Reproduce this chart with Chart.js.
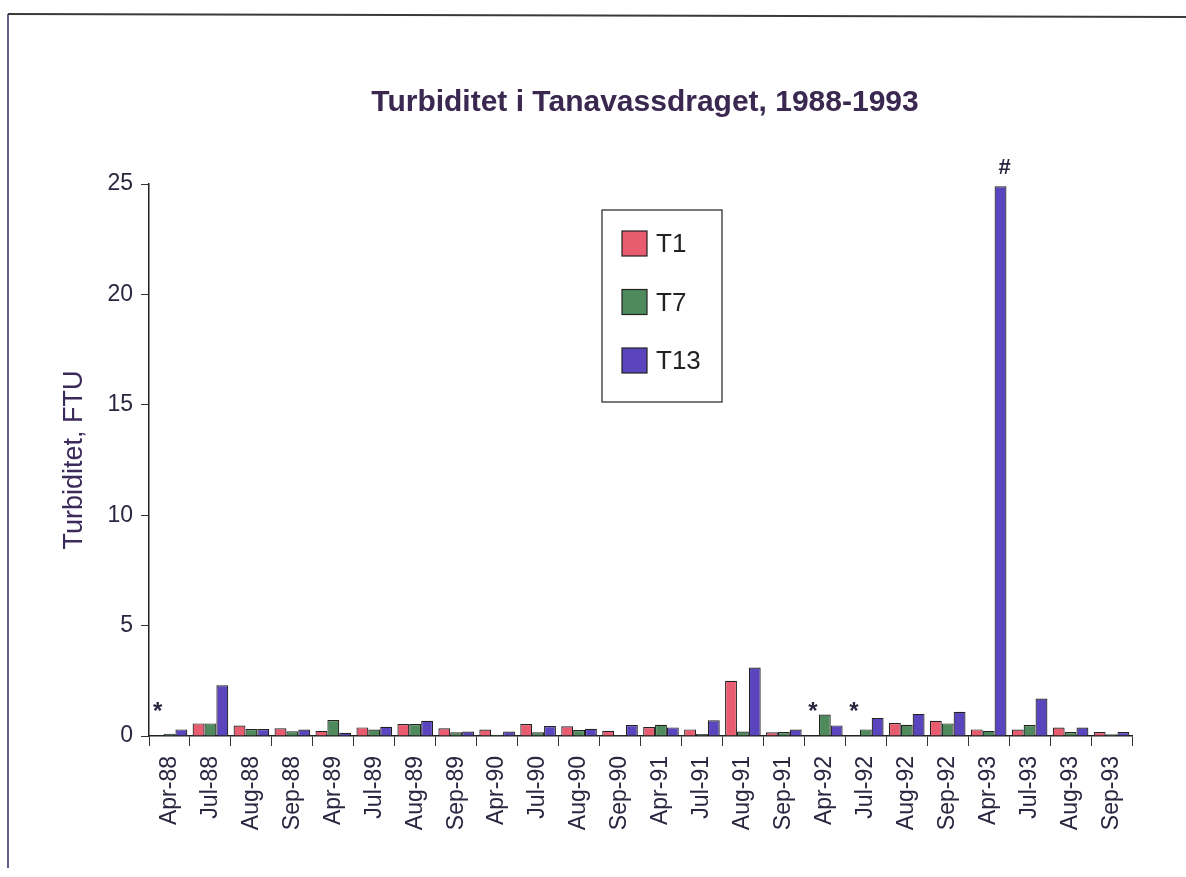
<!DOCTYPE html>
<html>
<head>
<meta charset="utf-8">
<title>Turbiditet i Tanavassdraget</title>
<script src="https://cdn.jsdelivr.net/npm/chart.js@4.4.1/dist/chart.umd.min.js"></script>
<style>
  html, body { margin: 0; padding: 0; background: #fff; }
  #wrap { position: relative; width: 1186px; height: 877px; }
</style>
</head>
<body>
<div id="wrap"><canvas id="myChart"></canvas></div>
<script>
const categories = ['Apr-88', 'Jul-88', 'Aug-88', 'Sep-88', 'Apr-89', 'Jul-89', 'Aug-89', 'Sep-89',
  'Apr-90', 'Jul-90', 'Aug-90', 'Sep-90', 'Apr-91', 'Jul-91', 'Aug-91', 'Sep-91',
  'Apr-92', 'Jul-92', 'Aug-92', 'Sep-92', 'Apr-93', 'Jul-93', 'Aug-93', 'Sep-93'];

const t1 = [null, 0.57, 0.47, 0.35, 0.23, 0.39, 0.54, 0.35, 0.29, 0.54, 0.44, 0.24,
  0.41, 0.3, 2.5, 0.17, null, null, 0.59, 0.69, 0.3, 0.29, 0.38, 0.18];
const t7 = [0.1, 0.57, 0.32, 0.21, 0.72, 0.29, 0.54, 0.17, 0.06, 0.17, 0.27, 0.05,
  0.51, 0.09, 0.2, 0.18, 0.97, 0.3, 0.51, 0.57, 0.23, 0.5, 0.18, 0.08];
const t13 = [0.3, 2.3, 0.32, 0.29, 0.15, 0.42, 0.69, 0.2, 0.2, 0.45, 0.33, 0.5,
  0.39, 0.71, 3.1, 0.29, 0.48, 0.82, 1.0, 1.1, 24.9, 1.7, 0.38, 0.18];

const yTicks = [0, 5, 10, 15, 20, 25];

// markers above bars: * = missing value, # = outlier
const noteCats = ['Apr-88', 'Apr-92', 'Jul-92', 'Apr-93'];
const noteSeries = [0, 0, 0, 2];
const noteSymbols = ['*', '*', '*', '#'];

const chartTitle = 'Turbiditet i Tanavassdraget, 1988-1993';

const FONT = '"Liberation Sans", Arial, sans-serif';
const INK = '#2c2540';

// scanned page edges + title
const pageFrame = {
  id: 'pageFrame',
  beforeDraw(chart) {
    const c = chart.ctx;
    c.save();
    c.fillStyle = '#fff';
    c.fillRect(0, 0, chart.width, chart.height);
    c.strokeStyle = '#3a3a3a';
    c.lineWidth = 2;
    c.beginPath();
    c.moveTo(8, 14);
    c.lineTo(chart.width, 17);
    c.stroke();
    c.strokeStyle = '#2a2a60';
    c.lineWidth = 1.5;
    c.beginPath();
    c.moveTo(8, 14);
    c.lineTo(8, 868);
    c.stroke();

    c.fillStyle = '#3a2850';
    c.font = 'bold 30px ' + FONT;
    c.textAlign = 'center';
    c.textBaseline = 'middle';
    c.fillText(chartTitle, 645, 103);
    c.restore();
  }
};

// boxed legend inside the plot
const boxLegend = {
  id: 'boxLegend',
  afterDraw(chart) {
    const c = chart.ctx;
    c.save();
    c.strokeStyle = '#222';
    c.lineWidth = 1.2;
    c.strokeRect(602, 210, 120, 192);
    c.font = '26px ' + FONT;
    c.textBaseline = 'middle';
    chart.data.datasets.forEach((ds, i) => {
      const y = 231 + i * 58.5;
      c.fillStyle = ds.backgroundColor;
      c.fillRect(622, y, 25, 25);
      c.strokeStyle = '#222';
      c.strokeRect(622, y, 25, 25);
      c.fillStyle = '#222';
      c.fillText(ds.label, 656, y + 14);
    });
    c.restore();
  }
};

const notes = {
  id: 'notes',
  afterDraw(chart) {
    const c = chart.ctx;
    const ys = chart.scales.y;
    c.save();
    c.fillStyle = INK;
    c.textAlign = 'center';
    c.textBaseline = 'middle';
    noteCats.forEach((cat, k) => {
      const idx = categories.indexOf(cat);
      const s = noteSeries[k];
      const ref = chart.getDatasetMeta(1).data[idx];
      const x = ref.x + (s - 1) * ref.width;
      let y;
      if (noteSymbols[k] === '#') {
        y = chart.getDatasetMeta(s).data[idx].y - 22;
        c.font = 'bold 22px ' + FONT;
      } else {
        y = ys.getPixelForValue(0) - 28;
        c.font = 'bold 24px ' + FONT;
      }
      c.fillText(noteSymbols[k], x + (noteSymbols[k] === '#' ? 4 : 0), y + 4);
    });
    c.restore();
  }
};

const ctx = document.getElementById('myChart').getContext('2d');
const chart = new Chart(ctx, {
  type: 'bar',
  data: {
    labels: categories,
    datasets: [
      { label: 'T1', data: t1, backgroundColor: '#e95b6f' },
      { label: 'T7', data: t7, backgroundColor: '#4e8a5b' },
      { label: 'T13', data: t13, backgroundColor: '#5b45be' }
    ]
  },
  options: {
    responsive: true,
    maintainAspectRatio: false,
    animation: false,
    layout: { padding: { left: 50, right: 54, top: 184, bottom: 0 } },
    datasets: {
      bar: {
        borderColor: '#222',
        borderWidth: 1.2,
        categoryPercentage: 0.87,
        barPercentage: 1.0
      }
    },
    plugins: {
      legend: { display: false },
      tooltip: { enabled: false },
      title: { display: false }
    },
    scales: {
      x: {
        grid: { display: true, drawOnChartArea: false, drawTicks: true, tickLength: 10, color: '#333', offset: true },
        border: { display: true, color: '#222', width: 1.5 },
        ticks: {
          color: INK,
          font: { family: FONT, size: 23 },
          minRotation: 90,
          maxRotation: 90,
          autoSkip: false,
          padding: 10
        },
        afterFit(scale) { scale.height = 141; }
      },
      y: {
        min: 0,
        max: 25,
        afterBuildTicks(scale) { scale.ticks = yTicks.map(v => ({ value: v })); },
        grid: { display: true, drawOnChartArea: false, drawTicks: true, tickLength: 8, color: '#333' },
        border: { display: true, color: '#222', width: 1.5 },
        ticks: {
          color: INK,
          font: { family: FONT, size: 23 },
          padding: 8
        },
        title: {
          display: true,
          text: 'Turbiditet, FTU',
          color: '#3b2a5a',
          font: { family: FONT, size: 27 },
          padding: { top: 8, bottom: 0 }
        },
        afterFit(scale) { scale.width = 99; }
      }
    }
  },
  plugins: [pageFrame, boxLegend, notes]
});
</script>
</body>
</html>
